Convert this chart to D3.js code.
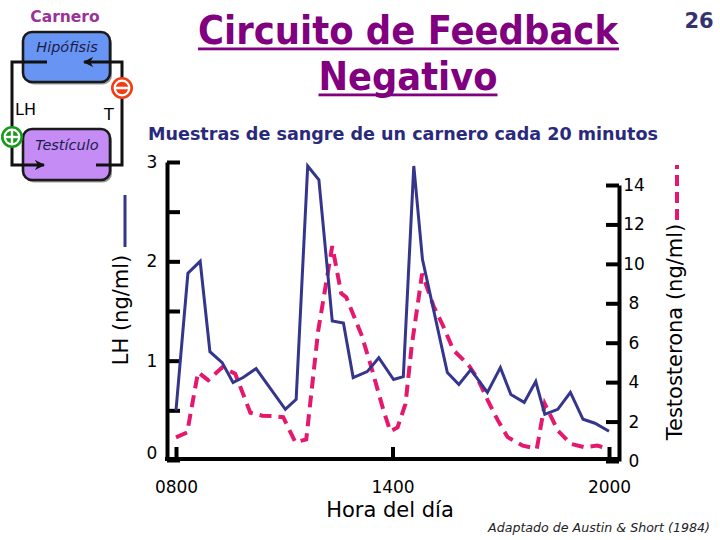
<!DOCTYPE html>
<html><head><meta charset="utf-8">
<script src="https://cdn.jsdelivr.net/npm/d3@7"></script>
<style>body{margin:0;background:#fff}svg{display:block}</style>
</head><body><svg id="chart" width="720" height="540"></svg>
<script>
// ---------- data ----------
const lhHours = [8.00,8.33,8.67,8.94,9.28,9.58,9.86,10.22,11.03,11.33,11.65,11.96,12.33,12.64,12.91,13.30,13.62,14.03,14.30,14.59,14.83,15.52,15.84,16.17,16.63,16.99,17.28,17.65,17.97,18.22,18.58,18.93,19.28,19.61,20.00];
const lhValues = [0.50,1.88,2.00,1.09,0.98,0.78,0.83,0.92,0.51,0.61,2.96,2.82,1.40,1.38,0.83,0.89,1.03,0.81,0.84,2.96,2.02,0.88,0.76,0.91,0.68,0.93,0.66,0.58,0.79,0.46,0.51,0.68,0.41,0.37,0.29];
const tHours = [8.00,8.31,8.61,8.89,9.28,9.64,10.06,10.39,10.69,10.97,11.31,11.61,11.94,12.33,12.58,12.72,13.14,13.39,13.75,13.94,14.14,14.36,14.53,14.82,15.14,15.39,15.69,16.11,16.36,16.64,16.92,17.19,17.61,18.00,18.22,18.58,18.94,19.31,19.67,20.00];
const tValues = [1.2,1.45,4.5,4.1,4.75,4.43,2.45,2.3,2.28,2.22,0.95,1.1,6.6,10.9,8.5,8.3,6.4,4.9,2.57,1.5,1.7,2.9,5.8,9.5,7.85,6.9,5.62,4.86,4.18,3.08,2.06,1.21,0.78,0.62,2.9,1.55,0.87,0.7,0.78,0.62];
const xTicks = [8, 14, 20];
const xTickLabels = ["0800", "1400", "2000"];
const lhTicks = [0, 0.5, 1, 1.5, 2, 2.5, 3];
const tTicks = [0, 2, 4, 6, 8, 10, 12, 14];

const titleLines = ["Circuito de Feedback", "Negativo"];
const subtitle = "Muestras de sangre de un carnero cada 20 minutos";
const xLabel = "Hora del día";
const lhLabel = "LH (ng/ml)";
const tLabel = "Testosterona (ng/ml)";
const source = "Adaptado de Austin & Short (1984)";
const pageNum = "26";

// ---------- setup ----------
const FONT = "'DejaVu Sans', Verdana, sans-serif";
const NAVY = "#35358c", PINK = "#e5186d", PURPLE = "#800080";
const svg = d3.select("#chart");
svg.append("rect").attr("width", 720).attr("height", 540).attr("fill", "#fff");

const x = d3.scaleLinear().domain([8, 20]).range([176, 609]);
const yL = d3.scaleLinear().domain([0, 3]).range([460, 162]);
const yR = d3.scaleLinear().domain([0, 14]).range([461, 185]);

// ---------- title ----------
const tg = svg.append("g");
[[titleLines[0], 44, 420], [titleLines[1], 90, 179]].forEach(([txt, yb, len]) => {
  const t = tg.append("text").attr("x", 408).attr("y", yb).attr("text-anchor", "middle")
    .attr("font-family", FONT)
    .attr("font-weight", "bold").attr("font-size", 39).attr("fill", PURPLE)
    .attr("textLength", len).attr("lengthAdjust", "spacingAndGlyphs").text(txt);
  const bb = t.node().getBBox();
  tg.append("rect").attr("x", bb.x).attr("y", yb + 3.5).attr("width", bb.width).attr("height", 2.8).attr("fill", PURPLE);
});
svg.append("text").attr("x", 699).attr("y", 28).attr("text-anchor", "middle")
  .attr("font-family", FONT).attr("font-weight", "bold").attr("font-size", 21)
  .attr("fill", "#333370").text(pageNum);

svg.append("text").attr("x", 148).attr("y", 140)
  .attr("font-family", FONT).attr("font-weight", "bold").attr("font-size", 18)
  .attr("fill", "#2a2a7c").attr("textLength", 510).attr("lengthAdjust", "spacingAndGlyphs")
  .text(subtitle);

// ---------- diagram ----------
const dg = svg.append("g");
const defs = svg.append("defs");
defs.append("marker").attr("id", "arr").attr("viewBox", "0 0 10 10").attr("refX", 9).attr("refY", 5)
  .attr("markerWidth", 3.4).attr("markerHeight", 3.4).attr("orient", "auto")
  .append("path").attr("d", "M0,0 L10,5 L0,10 L3,5 Z").attr("fill", "#111");

dg.append("text").attr("x", 65).attr("y", 22).attr("text-anchor", "middle")
  .attr("font-family", FONT).attr("font-weight", "bold").attr("font-size", 15.5)
  .attr("fill", "#993399").text("Carnero");

const boxes = [
  {y: 32, h: 50, fill: "#6895f3", label: "Hipófisis", ly: 52},
  {y: 129, h: 51, fill: "#c48cf4", label: "Testículo", ly: 150}
];
boxes.forEach(b => {
  dg.append("rect").attr("x", 25).attr("y", b.y + 2.5).attr("width", 87).attr("height", b.h)
    .attr("rx", 9).attr("fill", "#999");
  dg.append("rect").attr("x", 23).attr("y", b.y).attr("width", 87).attr("height", b.h)
    .attr("rx", 9).attr("fill", b.fill).attr("stroke", "#1a1a1a").attr("stroke-width", 2.6);
  dg.append("text").attr("x", 67).attr("y", b.ly).attr("text-anchor", "middle")
    .attr("font-family", FONT).attr("font-style", "italic").attr("font-size", 14.5)
    .attr("fill", "#1c1c4a").text(b.label);
});
dg.append("path").attr("d", "M47,62 H12 V165 H44").attr("fill", "none").attr("stroke", "#111")
  .attr("stroke-width", 3).attr("marker-end", "url(#arr)");
dg.append("path").attr("d", "M96,165 H122 V62 H84").attr("fill", "none").attr("stroke", "#111")
  .attr("stroke-width", 3).attr("marker-end", "url(#arr)");
dg.append("text").attr("x", 15).attr("y", 115).attr("font-family", FONT).attr("font-size", 16).text("LH");
dg.append("text").attr("x", 104).attr("y", 120).attr("font-family", FONT).attr("font-size", 16).text("T");
// minus sign (negative)
const m = dg.append("g").attr("transform", "translate(122,88)");
m.append("circle").attr("r", 11).attr("fill", "#f13d16");
m.append("circle").attr("r", 7.3).attr("fill", "none").attr("stroke", "#fff").attr("stroke-width", 2.2);
m.append("line").attr("x1", -7.3).attr("x2", 7.3).attr("stroke", "#fff").attr("stroke-width", 2.6);
// plus sign (positive)
const p = dg.append("g").attr("transform", "translate(12,137)");
p.append("circle").attr("r", 11).attr("fill", "#169a1a");
p.append("circle").attr("r", 7.3).attr("fill", "none").attr("stroke", "#fff").attr("stroke-width", 2.2);
p.append("line").attr("x1", -7.3).attr("x2", 7.3).attr("stroke", "#fff").attr("stroke-width", 2.4);
p.append("line").attr("y1", -7.3).attr("y2", 7.3).attr("stroke", "#fff").attr("stroke-width", 2.4);

// ---------- axes ----------
function styleAxis(g) {
  g.select(".domain").attr("stroke", "#000").attr("stroke-width", 4);
  g.selectAll(".tick line").attr("stroke", "#000").attr("stroke-width", 4);
  g.selectAll(".tick text").attr("font-family", FONT).attr("font-size", 17).attr("fill", "#000");
}
const gL = svg.append("g").attr("transform", "translate(167,0)")
  .call(d3.axisRight(yL).tickValues(lhTicks).tickSizeInner(13).tickSizeOuter(0).tickPadding(-28)
    .tickFormat(d => Number.isInteger(d) ? String(d) : ""));
styleAxis(gL);
gL.selectAll(".tick text").attr("text-anchor", "middle").attr("dy", d => d === 0 ? "-0.1em" : "0.32em");

const gR = svg.append("g").attr("transform", "translate(619,0)")
  .call(d3.axisLeft(yR).tickValues(tTicks).tickSizeInner(13).tickSizeOuter(0).tickPadding(-28));
styleAxis(gR);
gR.selectAll(".tick text").attr("text-anchor", "middle");

const gB = svg.append("g").attr("transform", "translate(0,459)")
  .call(d3.axisBottom(x).tickValues(xTicks).tickSizeInner(-12).tickSizeOuter(0).tickPadding(22)
    .tickFormat((d, i) => xTickLabels[i]));
styleAxis(gB);
gB.select(".domain").remove();
gB.append("line").attr("x1", 165).attr("x2", 621).attr("stroke", "#000").attr("stroke-width", 4);

// ---------- series ----------
const lhLine = d3.line().x((d, i) => x(lhHours[i])).y(d => yL(d));
const tLine = d3.line().x((d, i) => x(tHours[i])).y(d => yR(d));
svg.append("path").datum(tValues).attr("d", tLine).attr("fill", "none")
  .attr("stroke", PINK).attr("stroke-width", 4).attr("stroke-dasharray", "12,7");
svg.append("path").datum(lhValues).attr("d", lhLine).attr("fill", "none")
  .attr("stroke", NAVY).attr("stroke-width", 3).attr("stroke-linejoin", "miter");

// ---------- axis titles & legends ----------
svg.append("text").attr("transform", "translate(128,310) rotate(-90)").attr("text-anchor", "middle")
  .attr("font-family", FONT).attr("font-size", 21).text(lhLabel);
svg.append("line").attr("x1", 125).attr("x2", 125).attr("y1", 195).attr("y2", 247)
  .attr("stroke", NAVY).attr("stroke-width", 3);
svg.append("text").attr("transform", "translate(682,332) rotate(-90)").attr("text-anchor", "middle")
  .attr("font-family", FONT).attr("font-size", 21).text(tLabel);
svg.append("line").attr("x1", 677).attr("x2", 677).attr("y1", 220).attr("y2", 165)
  .attr("stroke", PINK).attr("stroke-width", 4).attr("stroke-dasharray", "11,6");

svg.append("text").attr("x", 390).attr("y", 517).attr("text-anchor", "middle")
  .attr("font-family", FONT).attr("font-size", 21).text(xLabel);
svg.append("text").attr("x", 488).attr("y", 532)
  .attr("font-family", FONT).attr("font-style", "italic").attr("font-size", 13).attr("fill", "#222")
  .attr("textLength", 222).attr("lengthAdjust", "spacingAndGlyphs").text(source);
</script></body></html>
